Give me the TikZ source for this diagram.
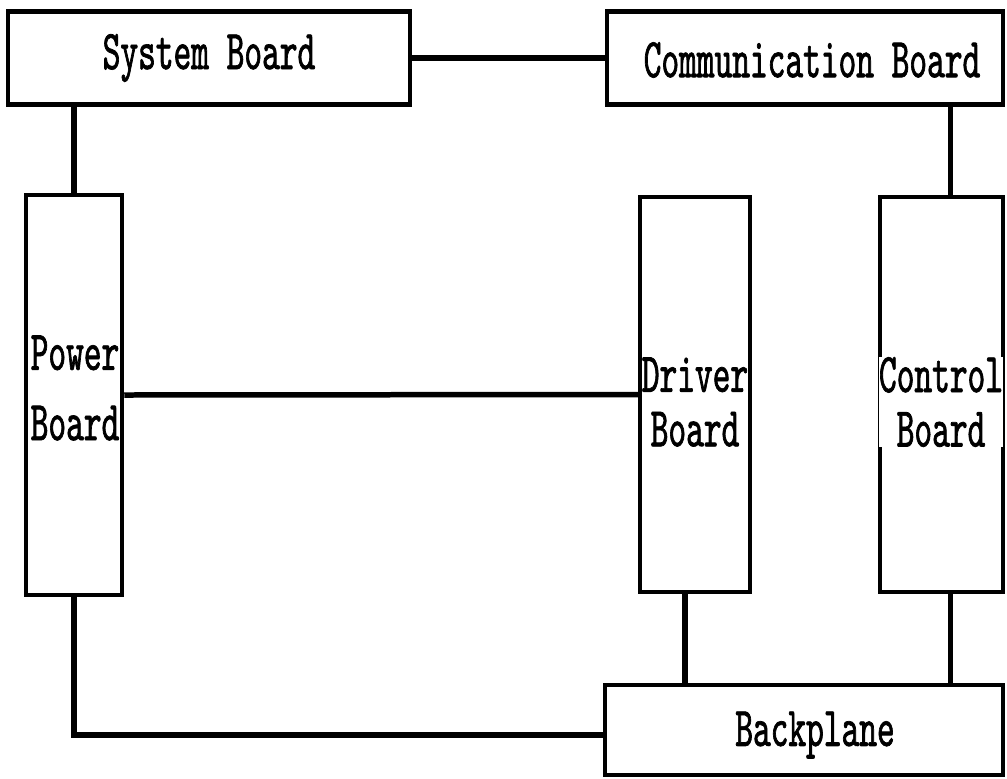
\documentclass[tikz,border=0pt]{standalone}
\usepackage{fontspec}
\newfontfamily\boardfont{lmmono10-regular.otf}[FakeStretch=0.6,FakeBold=1.2]
\usetikzlibrary{positioning}

\begin{document}
\begin{tikzpicture}[x=0.02cm,y=-0.02cm,line width=0.09cm]
\tikzset{
  board/.style={draw, fill=white, inner sep=0},
  boardlabel/.style={font=\boardfont\fontsize{32}{40}\selectfont, align=center, inner sep=0, fill=white},
  link/.style={line width=0.11cm}
}
\useasboundingbox (0,0) rectangle (1007,778);
% boards along the top
\node[board, minimum width=402*0.02cm, minimum height=93*0.02cm] (sys) at (209,58) {};
\node[board, minimum width=396*0.02cm, minimum height=93*0.02cm] (com) at (805,58) {};
% upright boards
\node[board, minimum width=96*0.02cm, minimum height=400*0.02cm] (pwr) at (74,395) {};
\node[board, minimum width=110*0.02cm, minimum height=395*0.02cm] (drv) at (695,394.5) {};
\node[board, minimum width=123*0.02cm, minimum height=395*0.02cm] (ctl) at (941.5,394.5) {};
% backplane at the bottom
\node[board, minimum width=398*0.02cm, minimum height=90*0.02cm] (bkp) at (804,730) {};
% labels
\node[boardlabel] (systxt) at (sys) {System Board};
\node[boardlabel] (comtxt) at (812,60) {Communication Board};
\node[boardlabel] (pwrtxt) at (75,388) {Power\\Board};
\node[boardlabel, font=\boardfont\fontsize{32}{31}\selectfont] (drvtxt) at (695,402) {Driver\\Board};
\node[boardlabel, font=\boardfont\fontsize{32}{31}\selectfont] (ctltxt) at (941,402) {Control\\Board};
\node[boardlabel] (bkptxt) at (815,735) {Backplane};
% connections
\draw[link] (sys.east) -- (com.west);
\draw[link] (pwr.north) -- (pwr.north |- sys.south);
\draw[link] ([xshift=0.18cm]ctl.north) -- ([xshift=0.18cm]ctl.north |- com.south);
\draw[link] (pwr.east) -- (drv.west);
\draw[link] ([xshift=-0.2cm]drv.south) -- ([xshift=-0.2cm]drv.south |- bkp.north);
\draw[link] ([xshift=0.18cm]ctl.south) -- ([xshift=0.18cm]ctl.south |- bkp.north);
\draw[link] (pwr.south) |- ([yshift=-0.1cm]bkp.west);
\end{tikzpicture}
\end{document}
